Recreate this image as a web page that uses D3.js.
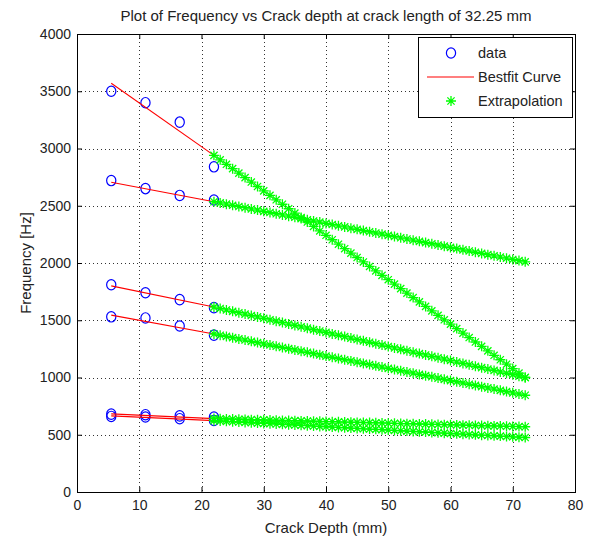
<!DOCTYPE html>
<html>
<head>
<meta charset="utf-8">
<script src="https://cdn.jsdelivr.net/npm/d3@7"></script>
<style>
  html, body { margin: 0; padding: 0; background: #fff; }
  svg text { font-family: "Liberation Sans", Arial, sans-serif; fill: #222; }
</style>
</head>
<body>
<svg id="chart" width="592" height="542"></svg>
<script>
// Crack depths (mm) at which frequencies were measured
const depths = [5.5, 11, 16.5, 22];

// Measured natural frequencies (Hz) for each mode
const mode1Data = [3500, 3400, 3230, 2840];
const mode2Data = [2720, 2650, 2590, 2550];
const mode3Data = [1810, 1740, 1680, 1610];
const mode4Data = [1530, 1520, 1450, 1370];
const mode5aData = [680, 675, 665, 655];
const mode5bData = [660, 655, 640, 625];

// Best-fit curve values at the ends of the measured range
const fitDepths = [5.5, 22];
const mode1Fit = [3570, 2940];
const mode2Fit = [2705, 2535];
const mode3Fit = [1800, 1615];
const mode4Fit = [1545, 1380];
const mode5aFit = [682, 641];
const mode5bFit = [665, 623];

// Extrapolated crack depths (mm), 22 .. 72
const extDepths = [22,23,24,25,26,27,28,29,30,31,32,33,34,35,36,37,38,39,40,41,42,43,44,45,46,47,48,49,50,
  51,52,53,54,55,56,57,58,59,60,61,62,63,64,65,66,67,68,69,70,71,72];

// Extrapolated frequencies (Hz)
const mode1Ext = [2940,2901,2862,2824,2785,2746,2707,2668,2630,2591,2552,2513,2474,2436,2397,2358,2319,2280,
  2242,2203,2164,2125,2086,2048,2009,1970,1931,1892,1854,1815,1776,1737,1698,1660,1621,1582,1543,1504,1466,
  1427,1388,1349,1310,1272,1233,1194,1155,1116,1078,1039,1000];
const mode2Ext = [2535,2525,2514,2504,2493,2483,2472,2462,2451,2441,2430,2420,2409,2399,2388,2378,2367,2357,
  2346,2336,2325,2315,2304,2294,2283,2273,2262,2252,2241,2231,2220,2210,2199,2189,2178,2168,2157,2147,2136,
  2126,2115,2105,2094,2084,2073,2063,2052,2042,2031,2021,2010];
const mode3Ext = [1615,1603,1590,1578,1566,1554,1541,1529,1517,1504,1492,1480,1467,1455,1443,1431,1418,1406,
  1394,1381,1369,1357,1344,1332,1320,1308,1295,1283,1271,1258,1246,1234,1221,1209,1197,1185,1172,1160,1148,
  1135,1123,1111,1098,1086,1074,1062,1049,1037,1025,1012,1000];
const mode4Ext = [1380,1369,1359,1348,1337,1327,1316,1305,1294,1284,1273,1262,1252,1241,1230,1220,1209,1198,
  1187,1177,1166,1155,1145,1134,1123,1113,1102,1091,1080,1070,1059,1048,1038,1027,1016,1006,995,984,973,
  963,952,941,931,920,909,899,888,877,866,856,845];
const mode5aExt = [641,640,638,637,635,634,632,631,630,628,627,625,624,623,621,620,618,617,615,614,613,611,
  610,608,607,606,604,603,601,600,598,597,596,594,593,591,590,588,587,586,584,583,581,580,578,577,576,574,
  573,571,570];
const mode5bExt = [623,620,617,614,611,608,605,602,599,597,594,591,588,585,582,579,576,573,570,567,564,561,
  558,555,552,550,547,544,541,538,535,532,529,526,524,520,517,514,511,508,505,502,499,496,494,491,488,485,
  482,479,476];

// Axis ticks
const xTicks = [0, 10, 20, 30, 40, 50, 60, 70, 80];
const yTicks = [0, 500, 1000, 1500, 2000, 2500, 3000, 3500, 4000];

const dataSeries = [mode1Data, mode2Data, mode3Data, mode4Data, mode5aData, mode5bData];
const fitSeries = [mode1Fit, mode2Fit, mode3Fit, mode4Fit, mode5aFit, mode5bFit];
const extSeries = [mode1Ext, mode2Ext, mode3Ext, mode4Ext, mode5aExt, mode5bExt];

const svg = d3.select("#chart");
const plot = { left: 77, right: 575, top: 34, bottom: 492 };

const x = d3.scaleLinear().domain([0, 80]).range([plot.left, plot.right]);
const y = d3.scaleLinear().domain([0, 4000]).range([plot.bottom, plot.top]);

// dotted grid
const grid = svg.append("g").attr("stroke", "#333").attr("stroke-width", 1)
  .attr("stroke-dasharray", "1,3");
grid.selectAll("line.gx").data(xTicks.slice(1, -1)).join("line")
  .attr("x1", d => Math.round(x(d)) + 0.5).attr("x2", d => Math.round(x(d)) + 0.5)
  .attr("y1", plot.top).attr("y2", plot.bottom);
grid.selectAll("line.gy").data(yTicks.slice(1, -1)).join("line")
  .attr("y1", d => Math.round(y(d)) + 0.5).attr("y2", d => Math.round(y(d)) + 0.5)
  .attr("x1", plot.left).attr("x2", plot.right);

// axes with inward ticks on all four sides
const tickLen = 5;
const fmt = d3.format("d");
const axB = d3.axisBottom(x).tickValues(xTicks).tickSize(-tickLen).tickPadding(8).tickFormat(fmt);
const axL = d3.axisLeft(y).tickValues(yTicks).tickSize(-tickLen).tickPadding(6).tickFormat(fmt);
const axT = d3.axisTop(x).tickValues(xTicks).tickSize(-tickLen).tickFormat("");
const axR = d3.axisRight(y).tickValues(yTicks).tickSize(-tickLen).tickFormat("");

function styleAxis(g) {
  g.select(".domain").remove();
  g.selectAll(".tick line").attr("stroke", "#000");
  g.selectAll(".tick text").attr("font-size", 14).attr("fill", "#222");
}
svg.append("g").attr("transform", `translate(0,${plot.bottom})`).call(axB).call(styleAxis);
svg.append("g").attr("transform", `translate(${plot.left},0)`).call(axL).call(styleAxis);
svg.append("g").attr("transform", `translate(0,${plot.top})`).call(axT).call(styleAxis);
svg.append("g").attr("transform", `translate(${plot.right},0)`).call(axR).call(styleAxis);

svg.append("rect")
  .attr("x", plot.left + 0.5).attr("y", plot.top + 0.5)
  .attr("width", plot.right - plot.left).attr("height", plot.bottom - plot.top)
  .attr("fill", "none").attr("stroke", "#000").attr("stroke-width", 1);

// star marker path
function starPath(r) {
  const d = r * 0.72;
  return `M${-r},0L${r},0M0,${-r}L0,${r}M${-d},${-d}L${d},${d}M${-d},${d}L${d},${-d}`;
}

// measured data: blue circles
const dataG = svg.append("g");
dataSeries.forEach(vals => {
  dataG.selectAll(null).data(vals.map((v, i) => [depths[i], v])).join("ellipse")
    .attr("cx", d => x(d[0])).attr("cy", d => y(d[1]))
    .attr("rx", 4.6).attr("ry", 5.2)
    .attr("fill", "none").attr("stroke", "#0000ff").attr("stroke-width", 1.2);
});

// best-fit curves: red lines
const line = d3.line().x(d => x(d[0])).y(d => y(d[1]));
fitSeries.forEach(vals => {
  svg.append("path").datum(vals.map((v, i) => [fitDepths[i], v]))
    .attr("d", line).attr("fill", "none").attr("stroke", "#ff0000").attr("stroke-width", 1.1);
});

// extrapolation: green stars
const extG = svg.append("g").attr("stroke", "#00ff00").attr("stroke-width", 1.3).attr("fill", "none");
extSeries.forEach(vals => {
  extG.selectAll(null).data(vals.map((v, i) => [extDepths[i], v])).join("path")
    .attr("transform", d => `translate(${x(d[0])},${y(d[1])})`)
    .attr("d", starPath(5));
});

// title and axis labels
svg.append("text").attr("x", (plot.left + plot.right) / 2).attr("y", 21)
  .attr("text-anchor", "middle").attr("font-size", 15)
  .text("Plot of Frequency vs Crack depth at crack length of 32.25 mm");
svg.append("text").attr("x", (plot.left + plot.right) / 2).attr("y", 533)
  .attr("text-anchor", "middle").attr("font-size", 15)
  .text("Crack Depth (mm)");
svg.append("text").attr("transform", `translate(31,${(plot.top + plot.bottom) / 2}) rotate(-90)`)
  .attr("text-anchor", "middle").attr("font-size", 15)
  .text("Frequency [Hz]");

// legend
const lg = svg.append("g").attr("transform", "translate(418,37)");
lg.append("rect").attr("x", 0.5).attr("y", 0.5).attr("width", 154).attr("height", 80)
  .attr("fill", "#fff").attr("stroke", "#000");
lg.append("ellipse").attr("cx", 33).attr("cy", 16).attr("rx", 4.6).attr("ry", 5.2)
  .attr("fill", "none").attr("stroke", "#0000ff").attr("stroke-width", 1.2);
lg.append("line").attr("x1", 9).attr("x2", 56).attr("y1", 40).attr("y2", 40)
  .attr("stroke", "#ff0000").attr("stroke-width", 1.1);
lg.append("path").attr("transform", "translate(33,64)").attr("d", starPath(5))
  .attr("stroke", "#00ff00").attr("stroke-width", 1.3);
const legendLabels = ["data", "Bestfit Curve", "Extrapolation"];
lg.selectAll("text").data(legendLabels).join("text")
  .attr("x", 60).attr("y", (d, i) => 21 + i * 24)
  .attr("font-size", 14.5).text(d => d);
</script>
</body>
</html>
